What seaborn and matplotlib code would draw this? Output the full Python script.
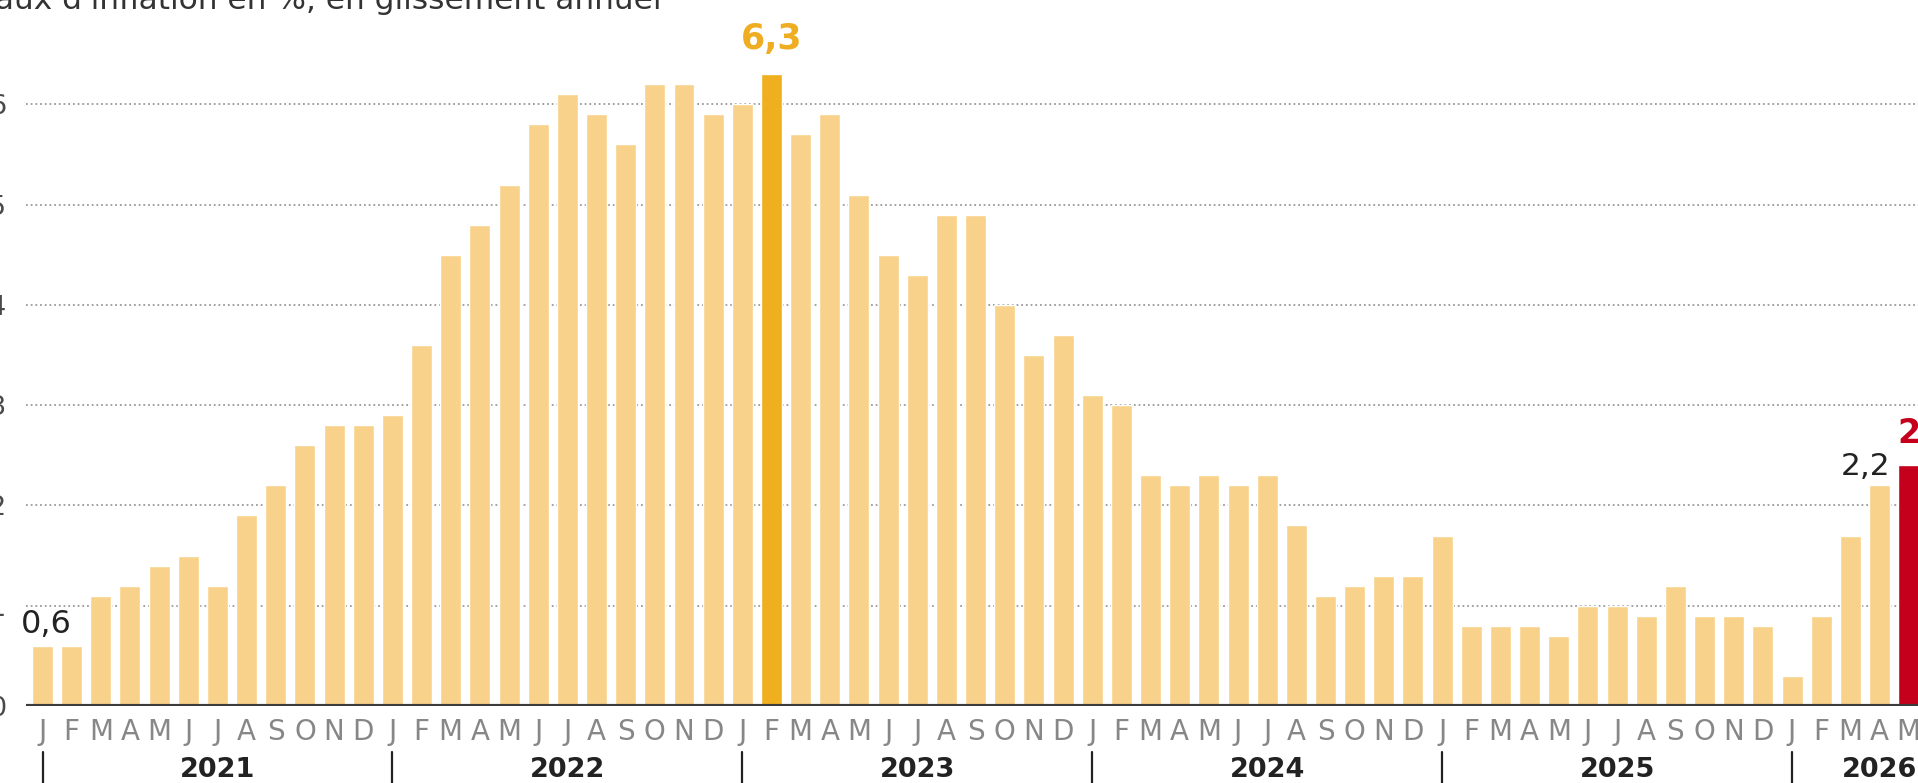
import matplotlib
matplotlib.use("Agg")
import matplotlib.pyplot as plt
import matplotlib.transforms as mtransforms
import seaborn as sns
import pandas as pd

# ---- data ----
years = ["2021", "2022", "2023", "2024", "2025", "2026"]
month_letters = ["J", "F", "M", "A", "M", "J", "J", "A", "S", "O", "N", "D"]
values_2021 = [0.6, 0.6, 1.1, 1.2, 1.4, 1.5, 1.2, 1.9, 2.2, 2.6, 2.8, 2.8]
values_2022 = [2.9, 3.6, 4.5, 4.8, 5.2, 5.8, 6.1, 5.9, 5.6, 6.2, 6.2, 5.9]
values_2023 = [6.0, 6.3, 5.7, 5.9, 5.1, 4.5, 4.3, 4.9, 4.9, 4.0, 3.5, 3.7]
values_2024 = [3.1, 3.0, 2.3, 2.2, 2.3, 2.2, 2.3, 1.8, 1.1, 1.2, 1.3, 1.3]
values_2025 = [1.7, 0.8, 0.8, 0.8, 0.7, 1.0, 1.0, 0.9, 1.2, 0.9, 0.9, 0.8]
values_2026 = [0.3, 0.9, 1.7, 2.2, 2.4]
yticks = [0, 1, 2, 3, 4, 5, 6]
title = "Taux d'inflation en %, en glissement annuel"
peak_label = "6,3"
first_label = "0,6"
prev_label = "2,2"
last_label = "2,4"

all_values = values_2021 + values_2022 + values_2023 + values_2024 + values_2025 + values_2026
keys, labels = [], []
for yr in years:
    n = 12 if yr != "2026" else len(values_2026)
    for m in range(n):
        keys.append(f"{yr}-{m + 1:02d}")
        labels.append(month_letters[m])

LIGHT = "#F8D28A"
PEAK = "#F0AF1E"
RED = "#C4001C"
peak_idx = all_values.index(max(all_values))
last_idx = len(all_values) - 1
colors = {}
for i, k in enumerate(keys):
    colors[k] = PEAK if i == peak_idx else (RED if i == last_idx else LIGHT)

df = pd.DataFrame({"mois": keys, "val": all_values})

# ---- figure ----
sns.set_theme(style="white")
plt.rcParams["font.family"] = ["DejaVu Sans"]
W, H = 1918, 783
fig = plt.figure(figsize=(W / 100, H / 100), dpi=100)
ax_left = 26 / W
ax_bottom = 77 / H
ax = fig.add_axes([ax_left, ax_bottom, 1 - ax_left, 1 - ax_bottom])

sns.barplot(data=df, x="mois", y="val", hue="mois", palette=colors, legend=False,
            width=0.72, saturation=1, ax=ax, order=keys, zorder=2)

ax.set_xlim(-0.566, 64.32)
ax.set_ylim(0, 7.04)
for s in ax.spines.values():
    s.set_visible(False)

ax.set_yticks(yticks)
ax.set_yticklabels([str(t) for t in yticks])
ax.tick_params(axis="y", length=0, pad=14.4, labelsize=19.5, labelcolor="#4a4a4a")
ax.set_xticks(range(len(keys)))
ax.set_xticklabels(labels)
ax.tick_params(axis="x", length=0, pad=8.5, labelsize=20, labelcolor="#878787")
ax.set_xlabel("")
ax.set_ylabel("")

for t in yticks[1:]:
    ax.axhline(t, color="#9a9a9a", lw=1.3, ls=(0, (1, 1.6)), zorder=1)
ax.axhline(0, color="#3c3c3c", lw=3, zorder=3)

# year separators and labels
trans = mtransforms.blended_transform_factory(ax.transData, ax.transAxes)
ax_h = H - 77
for yr in years:
    x0 = keys.index(f"{yr}-01")
    ax.plot([x0, x0], [-(752 - 706) / ax_h, -(790 - 706) / ax_h], color="#222222",
            lw=1.6, transform=trans, clip_on=False)
    xc = x0 + 6 if yr != "2026" else x0 + 3
    ax.text(xc, -(777 - 706) / ax_h, yr, transform=trans, ha="center", va="baseline",
            fontsize=19.5, fontweight="bold", color="#222222", clip_on=False)

# annotations
ax.text(peak_idx, 6.55, peak_label, ha="center", va="baseline", fontsize=25,
        fontweight="bold", color="#EFAD22")
ax.text(0.12, 0.73, first_label, ha="center", va="baseline", fontsize=23, color="#222222")
ax.text(63.36, 2.3, prev_label, ha="right", va="baseline", fontsize=22.5, color="#222222")
ax.text(63.6, 2.62, last_label, ha="left", va="baseline", fontsize=24,
        fontweight="bold", color=RED, clip_on=False)

fig.text(-19 / W, 1 - 9 / H, title, ha="left", va="baseline", fontsize=22.5, color="#333333")

fig.savefig("out.png", dpi=100)
